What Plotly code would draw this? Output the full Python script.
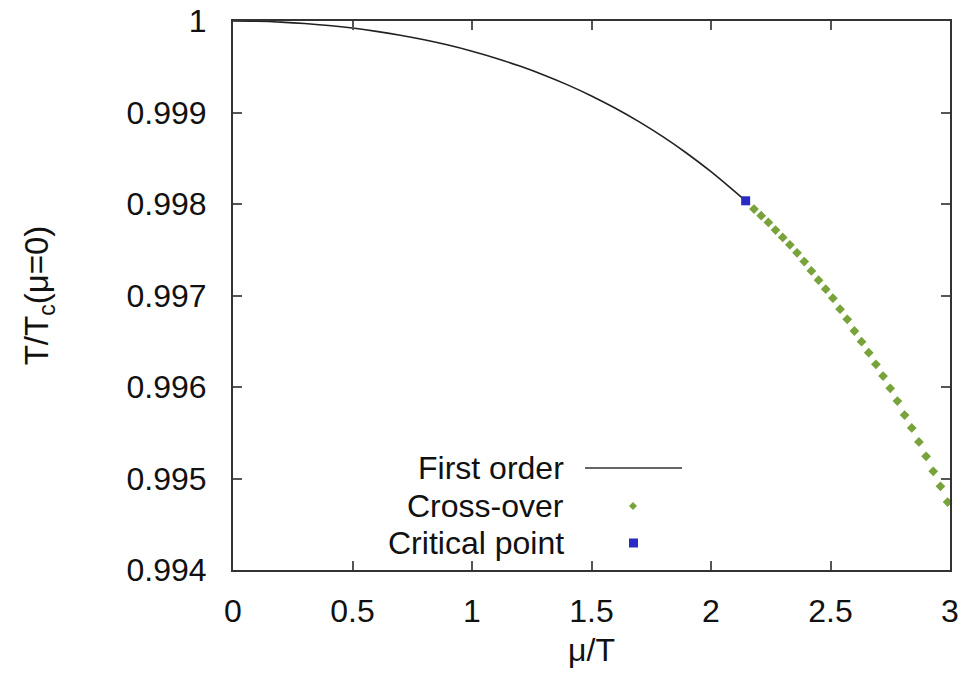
import plotly.graph_objects as go

# First-order transition line
mu_first = [0.0, 0.1, 0.2, 0.3, 0.4, 0.5, 0.6, 0.7, 0.8, 0.9, 1.0, 1.1, 1.2,
            1.3, 1.4, 1.5, 1.6, 1.7, 1.8, 1.9, 2.0, 2.1, 2.145]
t_first = [1.0, 0.999997, 0.999988, 0.999973, 0.999951, 0.999923, 0.999887,
           0.999845, 0.999795, 0.999737, 0.999670, 0.999594, 0.999507,
           0.999410, 0.999302, 0.999181, 0.999046, 0.998897, 0.998733,
           0.998552, 0.998353, 0.998135, 0.998035]

# Cross-over (pseudo-critical) points
mu_cross = [2.18, 2.21, 2.24, 2.27, 2.30, 2.33, 2.36, 2.39, 2.42, 2.45, 2.48,
            2.51, 2.54, 2.57, 2.60, 2.63, 2.66, 2.69, 2.72, 2.75, 2.78, 2.81,
            2.84, 2.87, 2.90, 2.93, 2.96, 2.99]
t_cross = [0.997945, 0.997872, 0.997798, 0.997715, 0.997634, 0.997554,
           0.997467, 0.997371, 0.997269, 0.997168, 0.997069, 0.996970,
           0.996850, 0.996740, 0.996612, 0.996495, 0.996375, 0.996248,
           0.996119, 0.995985, 0.995846, 0.995693, 0.995553, 0.995400,
           0.995243, 0.995079, 0.994915, 0.994743]

# Critical end point
mu_crit = [2.145]
t_crit = [0.998035]

x_ticks = [0, 0.5, 1, 1.5, 2, 2.5, 3]
x_labels = ["0", "0.5", "1", "1.5", "2", "2.5", "3"]
y_ticks = [0.994, 0.995, 0.996, 0.997, 0.998, 0.999, 1.0]
y_labels = ["0.994", "0.995", "0.996", "0.997", "0.998", "0.999", "1"]

legend_names = ["First order", "Cross-over", "Critical point"]

W, H = 974, 683
L, R, T, B = 233, 24, 21, 113
FONT = "Liberation Sans, Arial, sans-serif"
FS = 32
GREEN = "#78a23a"
BLUE = "#2a2ac4"


def px(x):
    return (x - L) / (W - L - R)


def py(y):
    return (H - B - y) / (H - T - B)


fig = go.Figure()
fig.add_trace(go.Scatter(x=mu_first, y=t_first, mode="lines",
                         line=dict(color="#222222", width=1.6, shape="spline",
                                   smoothing=1.0),
                         showlegend=False, hoverinfo="skip"))
fig.add_trace(go.Scatter(x=mu_cross, y=t_cross, mode="markers",
                         marker=dict(symbol="diamond", size=7.5, color=GREEN),
                         showlegend=False, cliponaxis=False))
fig.add_trace(go.Scatter(x=mu_crit, y=t_crit, mode="markers",
                         marker=dict(symbol="square", size=9, color=BLUE),
                         showlegend=False))

axis_common = dict(
    showline=True, linecolor="#333333", linewidth=2, mirror="allticks",
    ticks="inside", ticklen=9, tickwidth=1.5, tickcolor="#555555",
    showgrid=False, zeroline=False, automargin=False,
    tickfont=dict(family=FONT, size=FS, color="#111111"),
)

fig.update_xaxes(range=[0, 3], tickvals=x_ticks, ticktext=x_labels,
                 ticklabelstandoff=12,
                 title=dict(text="μ/T", font=dict(family=FONT, size=FS, color="#111111"),
                            standoff=10),
                 **axis_common)
fig.update_yaxes(range=[0.994, 1.0], tickvals=y_ticks, ticktext=y_labels,
                 ticklabelstandoff=18,
                 title=dict(text="T/T<sub>c</sub>(μ=0)",
                            font=dict(family=FONT, size=33, color="#111111"),
                            standoff=68),
                 **axis_common)

# Legend: right-aligned labels with keys on their right
rows = [468, 506, 543]
for name, yy in zip(legend_names, rows):
    fig.add_annotation(x=px(566), y=py(yy), xref="paper", yref="paper",
                       text=name, showarrow=False, xanchor="right",
                       yanchor="middle",
                       font=dict(family=FONT, size=FS, color="#111111"))
fig.add_shape(type="line", xref="paper", yref="paper",
              x0=px(585), x1=px(682), y0=py(rows[0]), y1=py(rows[0]),
              line=dict(color="#333333", width=1.6))
fig.add_shape(type="path", xref="paper", yref="paper",
              path=(f"M {px(629)} {py(rows[1])} L {px(633)} {py(rows[1] - 4)} "
                    f"L {px(637)} {py(rows[1])} L {px(633)} {py(rows[1] + 4)} Z"),
              fillcolor=GREEN, line=dict(width=0))
fig.add_shape(type="rect", xref="paper", yref="paper",
              x0=px(629), x1=px(638), y0=py(rows[2] - 4.5), y1=py(rows[2] + 4.5),
              fillcolor=BLUE, line=dict(width=0))

fig.update_layout(width=W, height=H, margin=dict(l=L, r=R, t=T, b=B),
                  paper_bgcolor="white", plot_bgcolor="white",
                  showlegend=False)

fig.write_html("out.html")
